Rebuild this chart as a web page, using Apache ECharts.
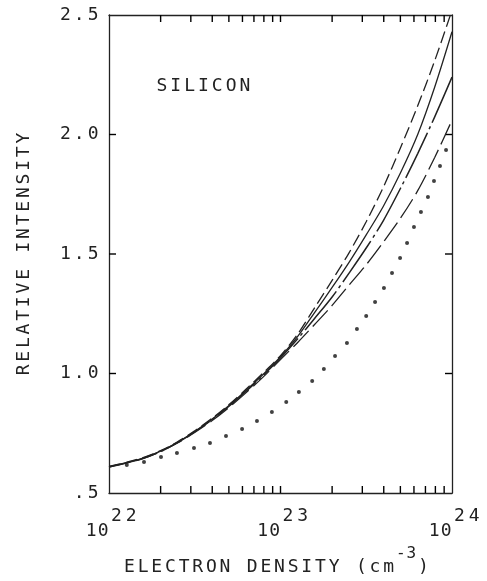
<!DOCTYPE html>
<html>
<head>
<meta charset="utf-8">
<script src="https://cdn.jsdelivr.net/npm/echarts@6/dist/echarts.min.js"></script>
<style>
  html, body { margin: 0; padding: 0; background: #fff; }
  #chart { width: 487px; height: 581px; }
</style>
</head>
<body>
<div id="chart"></div>
<script>
// electron density grid (cm^-3) shared by the four computed curves
const density = [
  1e22, 1.26e22, 1.58e22, 2e22, 2.51e22, 3.16e22, 3.98e22, 5.01e22, 6.31e22, 7.94e22,
  1e23, 1.26e23, 1.58e23, 2e23, 2.51e23, 3.16e23, 3.98e23, 5.01e23, 6.31e23, 7.94e23, 1e24
]
const dashedCurve = [
  0.611, 0.628, 0.648, 0.677, 0.714, 0.760, 0.812, 0.870, 0.935, 1.003,
  1.075, 1.165, 1.275, 1.390, 1.505, 1.635, 1.780, 1.945, 2.120, 2.310, 2.520
]
const solidCurve = [
  0.610, 0.627, 0.646, 0.675, 0.712, 0.757, 0.808, 0.866, 0.930, 0.997,
  1.070, 1.155, 1.255, 1.360, 1.465, 1.580, 1.700, 1.840, 2.000, 2.200, 2.430
]
const dashDotCurve = [
  0.609, 0.626, 0.645, 0.674, 0.711, 0.756, 0.806, 0.863, 0.926, 0.993,
  1.065, 1.145, 1.230, 1.320, 1.420, 1.525, 1.640, 1.775, 1.920, 2.075, 2.240
]
const longDashCurve = [
  0.608, 0.625, 0.644, 0.673, 0.709, 0.753, 0.802, 0.858, 0.920, 0.986,
  1.058, 1.130, 1.205, 1.285, 1.370, 1.455, 1.550, 1.650, 1.765, 1.905, 2.060
]

// dotted curve, read dot by dot
const dotDensity = [
  1.27e22, 1.6e22, 2.01e22, 2.49e22, 3.13e22, 3.88e22, 4.81e22, 5.97e22, 7.29e22, 8.91e22,
  1.08e23, 1.28e23, 1.53e23, 1.79e23, 2.08e23, 2.44e23, 2.79e23, 3.16e23, 3.56e23, 4.01e23,
  4.47e23, 4.98e23, 5.47e23, 6.0e23, 6.59e23, 7.24e23, 7.85e23, 8.51e23, 9.23e23
]
const dotValue = [
  0.617, 0.630, 0.651, 0.667, 0.688, 0.709, 0.738, 0.768, 0.801, 0.839,
  0.881, 0.923, 0.969, 1.019, 1.073, 1.128, 1.186, 1.241, 1.299, 1.358,
  1.421, 1.483, 1.546, 1.613, 1.676, 1.738, 1.805, 1.868, 1.935
]

const decadeTicks = [1e22, 1e23, 1e24]
const minorTicks = [
  2e22, 3e22, 4e22, 5e22, 6e22, 7e22, 8e22, 9e22, 1e23,
  2e23, 3e23, 4e23, 5e23, 6e23, 7e23, 8e23, 9e23
]
const yTicks = [1.0, 1.5, 2.0]
const yMin = 0.5
const yMax = 2.5
const xMin = 1e22
const xMax = 1e24

// log round trip brings the axis max back a hair under 1e24, so nudge that one inward
const inRange = vals => vals.map(v => (v === xMax ? v * 0.99999 : v))

const ink = '#222'
const mono = '"DejaVu Sans Mono", monospace'
const TICK = 7

// plotter lettering is wide, so every character gets its own padded token
const spaced = (s, st) => s.split('').map(c => '{' + st + '|' + c + '}').join('')
const pairs = (xs, ys) => xs.map((x, i) => [x, ys[i]])

const base = { fontFamily: mono, fontSize: 18, fontWeight: 'normal', color: ink }
const rich = {
  t: Object.assign({}, base, { padding: [0, 1.5] }),
  n: Object.assign({}, base, { padding: [0, 1.4], verticalAlign: 'bottom' }),
  b: Object.assign({}, base, { padding: [0, 0.5], verticalAlign: 'bottom' }),
  sg: Object.assign({}, base, { padding: [0, 2, 15, 2], verticalAlign: 'top' }),
  s: Object.assign({}, base, { padding: [0, 2, 15, 2], verticalAlign: 'top' }),
  ns: Object.assign({}, base, { fontSize: 16, padding: [0, 0.5, 14, 0.5], verticalAlign: 'top' })
}

const sup = (str) => str.split('').map((c, i) => '{' + (i ? 's' : 'sg') + '|' + c + '}').join('')

const decadeLabel = (v) => spaced('10', 'b') + sup(String(Math.round(Math.log10(v))))

const axisLine = { show: true, lineStyle: { color: ink, width: 1.3 } }
const tickLine = { stroke: '#000', lineWidth: 1.4 }

// inside axis ticks would not draw, so the frame ticks are a custom series
// placed through the axes' own scales
const xTickMarks = (params, api) => {
  const bottom = api.coord([api.value(0), yMin])
  const top = api.coord([api.value(0), yMax])
  return {
    type: 'group',
    children: [
      { type: 'line', shape: { x1: bottom[0], y1: bottom[1], x2: bottom[0], y2: bottom[1] - TICK }, style: tickLine },
      { type: 'line', shape: { x1: top[0], y1: top[1], x2: top[0], y2: top[1] + TICK }, style: tickLine }
    ]
  }
}
const yTickMarks = (params, api) => {
  const left = api.coord([xMin, api.value(1)])
  const right = api.coord([xMax, api.value(1)])
  return {
    type: 'group',
    children: [
      { type: 'line', shape: { x1: left[0], y1: left[1], x2: left[0] + TICK, y2: left[1] }, style: tickLine },
      { type: 'line', shape: { x1: right[0], y1: right[1], x2: right[0] - TICK, y2: right[1] }, style: tickLine }
    ]
  }
}

const chart = echarts.init(document.getElementById('chart'))

const option = {
  animation: false,
  backgroundColor: '#fff',
  title: {
    text: spaced('SILICON', 't'),
    left: 150,
    top: 72,
    textStyle: { fontWeight: 'normal', rich: rich }
  },
  grid: { left: 109, right: 35, top: 15, bottom: 88, outerBoundsMode: 'none' },
  xAxis: [
    {
      type: 'log',
      logBase: 10,
      min: xMin,
      max: xMax,
      position: 'bottom',
      axisLine: axisLine,
      axisTick: { show: false },
      axisLabel: {
        customValues: inRange(decadeTicks),
        formatter: decadeLabel,
        margin: 14,
        padding: [0, 0, 0, 6],
        rich: rich
      },
      splitLine: { show: false },
      name: spaced('ELECTRON DENSITY (cm', 'n') + spaced('-3', 'ns') + spaced(')', 'n'),
      nameLocation: 'middle',
      nameGap: 53,
      nameTextStyle: { padding: [0, 8, 0, 0], rich: rich }
    },
    {
      type: 'log',
      logBase: 10,
      min: xMin,
      max: xMax,
      position: 'top',
      axisLine: axisLine,
      axisTick: { show: false },
      axisLabel: { show: false },
      splitLine: { show: false }
    }
  ],
  yAxis: [
    {
      type: 'value',
      min: yMin,
      max: yMax,
      interval: 0.5,
      position: 'left',
      axisLine: axisLine,
      axisTick: { show: false },
      axisLabel: {
        margin: 9,
        formatter: v => spaced(v === 0.5 ? '.5' : v.toFixed(1), 't'),
        rich: rich
      },
      splitLine: { show: false },
      name: spaced('RELATIVE INTENSITY', 'n'),
      nameLocation: 'middle',
      nameGap: 76,
      nameTextStyle: { rich: rich }
    },
    {
      type: 'value',
      min: yMin,
      max: yMax,
      interval: 0.5,
      position: 'right',
      axisLine: axisLine,
      axisTick: { show: false },
      axisLabel: { show: false },
      splitLine: { show: false }
    }
  ],
  series: [
    {
      type: 'line',
      data: pairs(density, dashedCurve),
      showSymbol: false,
      smooth: 0.3,
      lineStyle: { color: ink, width: 1.3, type: [12, 5] }
    },
    {
      type: 'line',
      data: pairs(density, solidCurve),
      showSymbol: false,
      smooth: 0.3,
      lineStyle: { color: ink, width: 1.3 }
    },
    {
      type: 'line',
      data: pairs(density, dashDotCurve),
      showSymbol: false,
      smooth: 0.3,
      lineStyle: { color: ink, width: 1.5, type: [50, 4, 3, 4] }
    },
    {
      type: 'line',
      data: pairs(density, longDashCurve),
      showSymbol: false,
      smooth: 0.3,
      lineStyle: { color: ink, width: 1.3, type: [22, 6] }
    },
    {
      type: 'scatter',
      data: pairs(dotDensity, dotValue),
      symbolSize: 4,
      itemStyle: { color: '#111' }
    },
    {
      type: 'custom',
      silent: true,
      clip: false,
      data: minorTicks.map(v => [v, yMin]),
      renderItem: xTickMarks
    },
    {
      type: 'custom',
      silent: true,
      clip: false,
      data: yTicks.map(v => [xMin, v]),
      renderItem: yTickMarks
    }
  ]
}

chart.setOption(option)
</script>
</body>
</html>
